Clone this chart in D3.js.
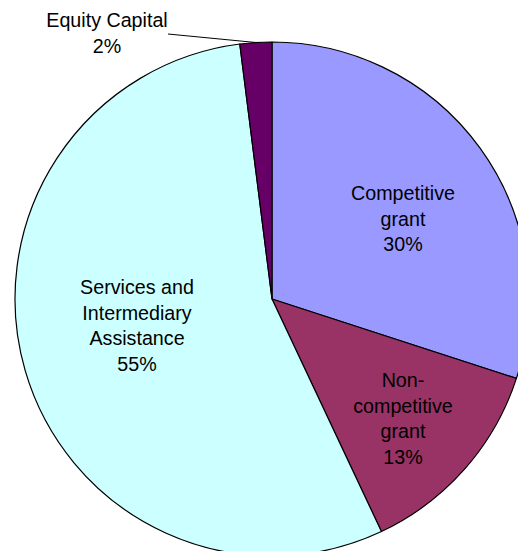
<!DOCTYPE html>
<html>
<head>
<meta charset="utf-8">
<script src="https://cdn.jsdelivr.net/npm/d3@7"></script>
<style>
  html, body { margin: 0; padding: 0; background: #fff; }
  svg { display: block; }
  text { font-family: "Liberation Sans", Arial, sans-serif; fill: #000; }
</style>
</head>
<body>
<svg id="chart" width="518" height="551"></svg>
<script>
// Funding shares by category (percent), clockwise from 12 o'clock
const categories = ["Competitive grant", "Non-competitive grant", "Services and Intermediary Assistance", "Equity Capital"];
const values = [30, 13, 55, 2];
const colors = ["#9999FF", "#993366", "#CCFFFF", "#660066"];
// Label lines as printed inside / beside each slice
const labelLines = [
  ["Competitive", "grant", "30%"],
  ["Non-", "competitive", "grant", "13%"],
  ["Services and", "Intermediary", "Assistance", "55%"],
  ["Equity Capital", "2%"]
];

const W = 518, H = 551;
const cx = 272, cy = 299, R = 257;
const fontSize = 19.7, lineGap = 25.7;

// Position of each label's first baseline, relative to the pie centre
const labelOffset = [
  [131, -99],
  [131, 88],
  [-135, -5],
  [-165, -272]
];

const svg = d3.select("#chart");
const g = svg.append("g").attr("transform", `translate(${cx},${cy})`);

const pie = d3.pie().sort(null).value(d => d)(values);
const arc = d3.arc().innerRadius(0).outerRadius(R);

g.selectAll("path.slice")
  .data(pie)
  .join("path")
  .attr("class", "slice")
  .attr("d", arc)
  .attr("fill", (d, i) => colors[i])
  .attr("stroke", "#000")
  .attr("stroke-width", 1.2)
  .attr("stroke-linejoin", "round");

// Leader line for the small Equity Capital slice
const eq = pie[3];
const eqMid = (eq.startAngle + eq.endAngle) / 2;
const edge = [Math.sin(eqMid) * R, -Math.cos(eqMid) * R];
g.append("line")
  .attr("x1", -104).attr("y1", -265)
  .attr("x2", edge[0]).attr("y2", edge[1])
  .attr("stroke", "#000")
  .attr("stroke-width", 1);

// Slice labels
labelLines.forEach((lines, i) => {
  const t = g.append("text")
    .attr("text-anchor", "middle")
    .attr("font-size", fontSize);
  lines.forEach((ln, j) => {
    t.append("tspan")
      .attr("x", labelOffset[i][0])
      .attr("y", labelOffset[i][1] + j * lineGap)
      .text(ln);
  });
});
</script>
</body>
</html>
